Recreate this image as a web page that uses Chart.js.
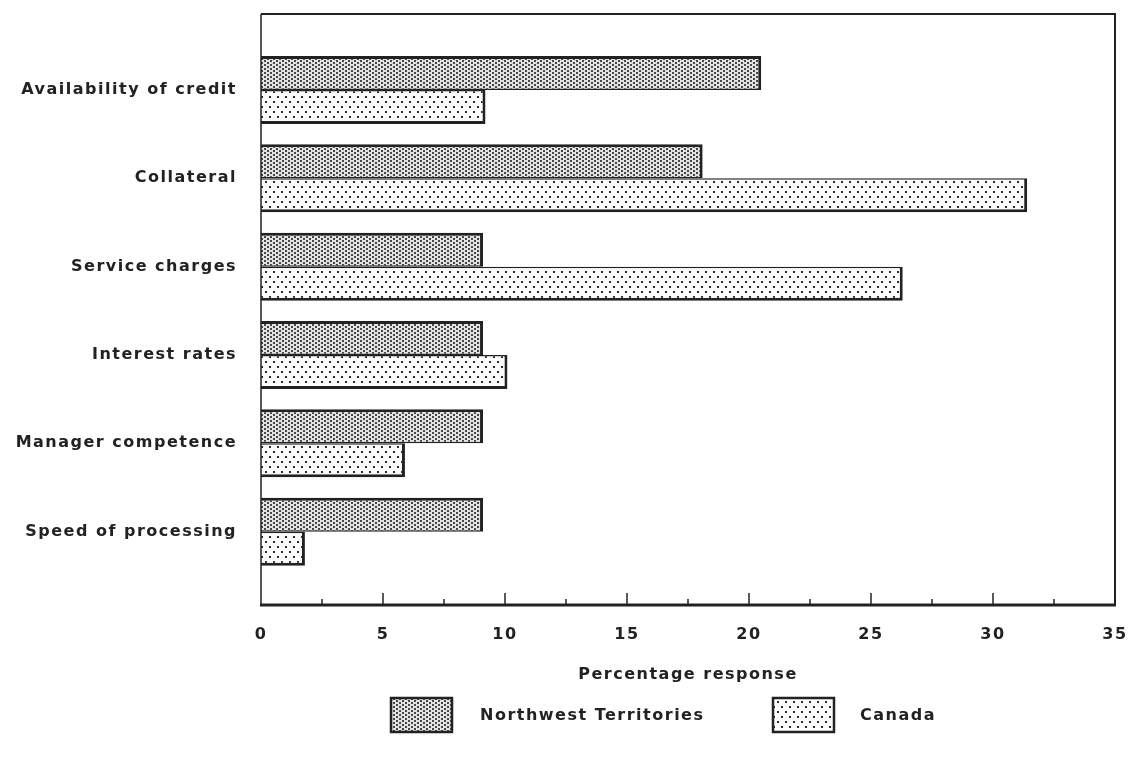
<!DOCTYPE html>
<html>
<head>
<meta charset="utf-8">
<script src="https://cdn.jsdelivr.net/npm/chart.js@4.4.1/dist/chart.umd.min.js"></script>
<style>
  html, body { margin: 0; padding: 0; background: #fff; }
  #boite { width: 1133px; height: 760px; }
</style>
</head>
<body>
<div id="boite"><canvas id="myChart" width="1133" height="760"></canvas></div>
<script>
// Donnees
const categories = ["Availability of credit", "Collateral", "Service charges", "Interest rates", "Manager competence", "Speed of processing"];
const seriesNames = ["Northwest Territories", "Canada"];
const valeursNWT = [20.5, 18.1, 9.1, 9.1, 9.1, 9.1];
const valeursCanada = [9.2, 31.4, 26.3, 10.1, 5.9, 1.8];
const xTicks = [0, 5, 10, 15, 20, 25, 30, 35];

const encre = '#222';
const police = { family: "'DejaVu Sans', sans-serif", size: 16, weight: 'bold' };

// Motifs de remplissage (trames)
function trameDense() {
    const c = document.createElement('canvas');
    c.width = 6; c.height = 4;
    const g = c.getContext('2d');
    g.fillStyle = '#e2e2e2';
    g.fillRect(0, 0, 6, 4);
    g.fillStyle = '#474747';
    g.fillRect(0, 0, 2, 2);
    g.fillRect(3, 2, 2, 2);
    return g.createPattern(c, 'repeat');
}
function trameLegere() {
    const c = document.createElement('canvas');
    c.width = 8; c.height = 10;
    const g = c.getContext('2d');
    g.fillStyle = '#fdfdfd';
    g.fillRect(0, 0, 8, 10);
    g.fillStyle = '#2a2a2a';
    g.fillRect(1, 1, 2, 2);
    g.fillRect(5, 6, 2, 2);
    return g.createPattern(c, 'repeat');
}

// On construit les points {x: valeur, y: index de categorie}
function enPoints(valeurs) {
    return valeurs.map((v, i) => ({ x: v, y: i }));
}

const cadrePlugin = {
    id: 'cadre',
    beforeUpdate(chart) { chart.ctx.letterSpacing = '1.5px'; },
    beforeDraw(chart) { chart.ctx.letterSpacing = '1.5px'; },
    afterDatasetsDraw(chart) {
        const ctx = chart.ctx;
        const a = chart.chartArea;
        const x = chart.scales.x;
        ctx.save();
        ctx.strokeStyle = encre;
        // haut + droite
        ctx.lineWidth = 2;
        ctx.beginPath();
        ctx.moveTo(a.left, a.top);
        ctx.lineTo(a.right, a.top);
        ctx.lineTo(a.right, a.bottom);
        ctx.stroke();
        // gauche
        ctx.lineWidth = 1.5;
        ctx.beginPath();
        ctx.moveTo(a.left, a.top);
        ctx.lineTo(a.left, a.bottom);
        ctx.stroke();
        // graduations vers l'interieur
        ctx.lineWidth = 1.5;
        for (let v = 2.5; v < 35; v += 2.5) {
            const px = x.getPixelForValue(v);
            const long = (v % 5 === 0) ? 12 : 6;
            ctx.beginPath();
            ctx.moveTo(px, a.bottom);
            ctx.lineTo(px, a.bottom - long);
            ctx.stroke();
        }
        // axe du bas
        ctx.lineWidth = 3;
        ctx.beginPath();
        ctx.moveTo(a.left - 1, a.bottom);
        ctx.lineTo(a.right + 1, a.bottom);
        ctx.stroke();
        ctx.restore();
    },
    afterDraw(chart) {
        // legende dessinee a la main
        const ctx = chart.ctx;
        const places = [{ bx: 391, tx: 480 }, { bx: 773, tx: 860 }];
        ctx.save();
        ctx.letterSpacing = '1.5px';
        chart.data.datasets.forEach((ds, i) => {
            const p = places[i];
            ctx.fillStyle = ds.backgroundColor;
            ctx.fillRect(p.bx, 698, 61, 34);
            ctx.strokeStyle = encre;
            ctx.lineWidth = 2.5;
            ctx.strokeRect(p.bx, 698, 61, 34);
            ctx.fillStyle = encre;
            ctx.font = "bold 16px 'DejaVu Sans', sans-serif";
            ctx.textBaseline = 'middle';
            ctx.textAlign = 'left';
            ctx.fillText(ds.label, p.tx, 716);
        });
        ctx.restore();
    }
};

const ctx = document.getElementById('myChart').getContext('2d');
const myChart = new Chart(ctx, {
    type: 'bar',
    data: {
        datasets: [
            {
                label: seriesNames[0],
                data: enPoints(valeursNWT),
                backgroundColor: trameDense(),
                borderColor: encre,
                borderWidth: { top: 3, right: 3, bottom: 1.5, left: 0 }
            },
            {
                label: seriesNames[1],
                data: enPoints(valeursCanada),
                backgroundColor: trameLegere(),
                borderColor: encre,
                borderWidth: { top: 1.5, right: 3, bottom: 3, left: 0 }
            }
        ]
    },
    options: {
        indexAxis: 'y',
        responsive: false,
        animation: false,
        categoryPercentage: 0.77,
        barPercentage: 1.0,
        layout: { padding: { top: 14, right: 18, left: 0, bottom: 71.6 } },
        plugins: {
            legend: { display: false },
            tooltip: { enabled: false }
        },
        scales: {
            x: {
                type: 'linear',
                min: 0,
                max: 35,
                grid: { display: false, drawTicks: false },
                border: { display: false },
                afterBuildTicks: (scale) => { scale.ticks = xTicks.map(v => ({ value: v })); },
                afterFit: (scale) => { scale.paddingLeft = 0; scale.paddingRight = 0; },
                ticks: { color: encre, font: police, padding: 20 },
                title: {
                    display: true,
                    text: 'Percentage response',
                    color: encre,
                    font: police,
                    padding: { top: 1, bottom: 4 }
                }
            },
            y: {
                type: 'linear',
                reverse: true,
                bounds: 'data',
                offset: false,
                min: -0.86,
                max: 5.83,
                grid: { display: false, drawTicks: false },
                border: { display: false },
                afterBuildTicks: (scale) => { scale.ticks = categories.map((c, i) => ({ value: i })); },
                afterFit: (scale) => { scale.width = 261; scale.paddingTop = 0; scale.paddingBottom = 0; },
                ticks: {
                    autoSkip: false,
                    color: encre,
                    font: police,
                    padding: 24,
                    callback: (v) => categories[Math.round(v)] || ''
                }
            }
        }
    },
    plugins: [cadrePlugin]
});
</script>
</body>
</html>
